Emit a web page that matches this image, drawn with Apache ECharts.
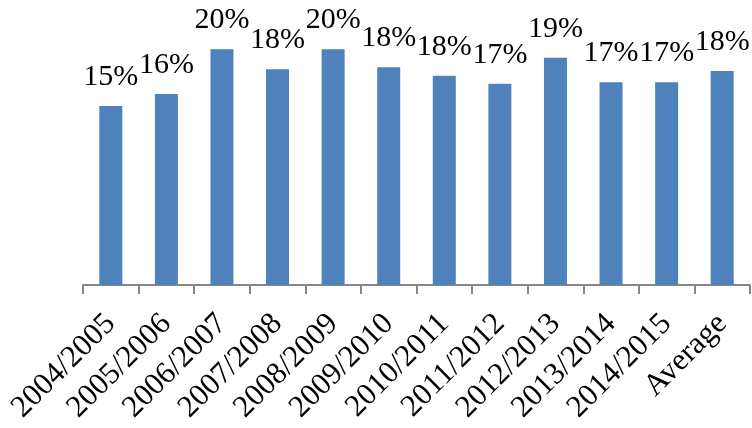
<!DOCTYPE html>
<html>
<head>
<meta charset="utf-8">
<script src="https://cdn.jsdelivr.net/npm/echarts@6/dist/echarts.min.js"></script>
<style>
  html, body { margin: 0; padding: 0; background: #ffffff; }
  #chart { width: 752px; height: 428px; }
</style>
</head>
<body>
<div id="chart"></div>
<script>
// Season labels along the category axis
const seasons = [
  '2004/2005', '2005/2006', '2006/2007', '2007/2008', '2008/2009', '2009/2010',
  '2010/2011', '2011/2012', '2012/2013', '2013/2014', '2014/2015', 'Average'
];

// Share per season (fraction); labels show it rounded to whole percent
const shares = [
  0.1507, 0.1608, 0.1985, 0.1816, 0.1985, 0.1833,
  0.1762, 0.1695, 0.1914, 0.1707, 0.1707, 0.1802
];

const chart = echarts.init(document.getElementById('chart'), null, { renderer: 'canvas' });

const serif = '"Liberation Serif", "Times New Roman", "DejaVu Serif", serif';

chart.setOption({
  animation: false,
  backgroundColor: '#ffffff',
  grid: { left: 83, right: 2, top: 0, bottom: 143, containLabel: false },
  xAxis: {
    type: 'category',
    data: seasons,
    boundaryGap: true,
    axisLine: { show: true, lineStyle: { color: '#868686', width: 2 } },
    axisTick: { show: true, length: 9, alignWithLabel: false, lineStyle: { color: '#868686', width: 2 } },
    axisLabel: {
      rotate: 45,
      margin: 34,
      interval: 0,
      fontFamily: serif,
      fontSize: 31,
      color: '#000000'
    }
  },
  yAxis: {
    type: 'value',
    min: 0,
    max: 0.24,
    show: false,
    splitLine: { show: false }
  },
  series: [{
    type: 'bar',
    data: shares,
    barWidth: 23,
    itemStyle: { color: '#4F81BD' },
    label: {
      show: true,
      position: 'top',
      distance: 14,
      fontFamily: serif,
      fontSize: 30,
      lineHeight: 30,
      color: '#000000',
      formatter: p => Math.round(p.value * 100) + '%'
    }
  }]
});
</script>
</body>
</html>
